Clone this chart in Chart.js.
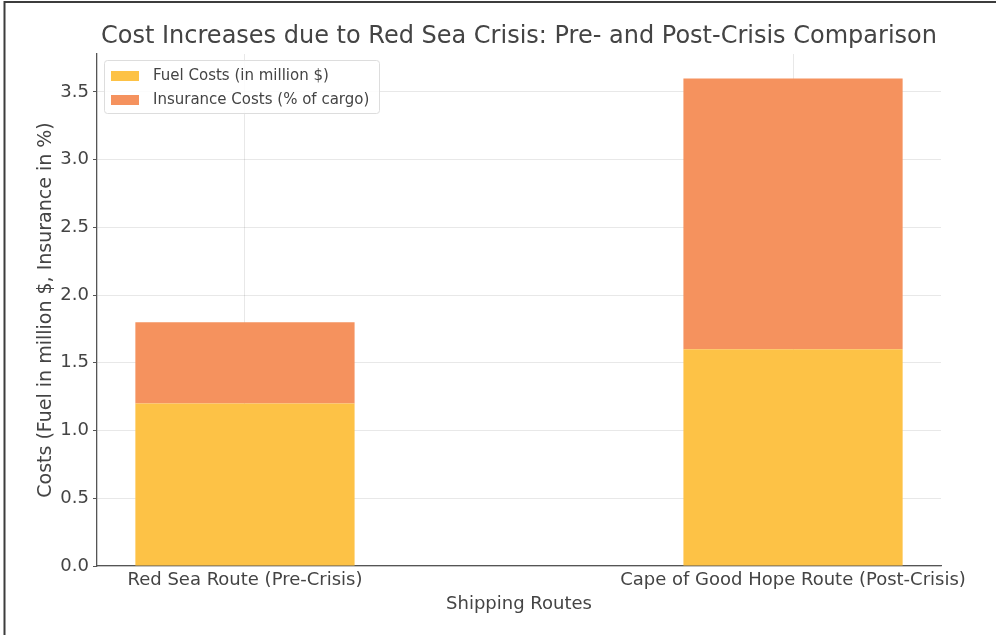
<!DOCTYPE html>
<html>
<head>
<meta charset="utf-8">
<script src="https://cdn.jsdelivr.net/npm/chart.js@4.4.1/dist/chart.umd.min.js"></script>
<style>
  html, body { margin: 0; padding: 0; background: #fff; }
  #wrap { position: absolute; left: 0; top: 0; width: 996px; height: 635px; }
</style>
</head>
<body>
<div id="wrap"><canvas id="c" width="996" height="635"></canvas></div>
<script>
// Shipping routes and their cost components
const routes = ['Red Sea Route (Pre-Crisis)', 'Cape of Good Hope Route (Post-Crisis)'];
const fuelCosts = [1.2, 1.6];        // million $
const insuranceCosts = [0.6, 2.0];   // % of cargo
const yTicks = [0.0, 0.5, 1.0, 1.5, 2.0, 2.5, 3.0, 3.5];
const seriesLabels = ['Fuel Costs (in million $)', 'Insurance Costs (% of cargo)'];
const seriesColors = ['#FDC246', '#F5925E'];
const chartTitle = 'Cost Increases due to Red Sea Crisis: Pre- and Post-Crisis Comparison';

const FONT = "'DejaVu Sans', sans-serif";
const TEXT = '#444444';

const toPoints = arr => arr.map((v, i) => ({ x: i, y: v }));

// Page background and frame lines
const framePlugin = {
  id: 'frame',
  beforeDraw(chart) {
    const ctx = chart.ctx;
    ctx.save();
    ctx.fillStyle = '#ffffff';
    ctx.fillRect(0, 0, chart.width, chart.height);
    ctx.strokeStyle = '#3c3c3c';
    ctx.lineWidth = 2;
    ctx.beginPath();
    ctx.moveTo(4.5, chart.height);
    ctx.lineTo(4.5, 2);
    ctx.lineTo(chart.width, 2);
    ctx.stroke();
    ctx.restore();
  }
};

// Title centred over the plot area
const areaTitle = {
  id: 'areaTitle',
  afterDraw(chart) {
    const ctx = chart.ctx;
    const area = chart.chartArea;
    ctx.save();
    ctx.font = '24px ' + FONT;
    ctx.fillStyle = TEXT;
    ctx.textAlign = 'center';
    ctx.textBaseline = 'middle';
    ctx.fillText(chartTitle, (area.left + area.right) / 2, 37);
    ctx.restore();
  }
};

// Legend drawn inside the plot area, upper left
const innerLegend = {
  id: 'innerLegend',
  afterDraw(chart) {
    const ctx = chart.ctx;
    const area = chart.chartArea;
    const x = area.left + 7, y = area.top + 6, w = 275, h = 53, r = 3;
    ctx.save();
    ctx.fillStyle = 'rgba(255,255,255,0.85)';
    ctx.strokeStyle = '#dddddd';
    ctx.lineWidth = 1;
    ctx.beginPath();
    ctx.roundRect(x + 0.5, y + 0.5, w, h, r);
    ctx.fill();
    ctx.stroke();
    ctx.font = '15px ' + FONT;
    ctx.textBaseline = 'middle';
    ctx.textAlign = 'left';
    chart.data.datasets.forEach((ds, i) => {
      const cy = y + 16 + i * 24;
      ctx.fillStyle = ds.backgroundColor;
      ctx.fillRect(x + 7, cy - 5, 28, 10);
      ctx.fillStyle = TEXT;
      ctx.fillText(ds.label, x + 49, cy);
    });
    ctx.restore();
  }
};

new Chart(document.getElementById('c'), {
  type: 'bar',
  data: {
    datasets: [
      { label: seriesLabels[0], data: toPoints(fuelCosts), backgroundColor: seriesColors[0] },
      { label: seriesLabels[1], data: toPoints(insuranceCosts), backgroundColor: seriesColors[1] }
    ]
  },
  options: {
    responsive: false,
    animation: false,
    devicePixelRatio: 1,
    layout: { padding: { left: 0, right: 55, top: 54, bottom: 0 } },
    datasets: { bar: { barPercentage: 0.4, categoryPercentage: 1.0, borderWidth: 0 } },
    plugins: {
      legend: { display: false },
      tooltip: { enabled: false },
      title: { display: false }
    },
    scales: {
      x: {
        type: 'linear',
        stacked: true,
        offset: false,
        min: -0.27,
        max: 1.27,
        z: 1,
        afterBuildTicks: s => { s.ticks = routes.map((_, i) => ({ value: i })); },
        afterFit: s => { s.height = 69; },
        ticks: {
          color: TEXT,
          font: { family: FONT, size: 18 },
          padding: 4,
          maxRotation: 0,
          autoSkip: false,
          callback: v => routes[v]
        },
        grid: { color: 'rgba(0,0,0,0.09)', drawTicks: false, offset: false },
        border: { display: true, color: '#555555', width: 1.3 },
        title: {
          display: true,
          text: 'Shipping Routes',
          color: TEXT,
          font: { family: FONT, size: 18 },
          padding: { top: 0, bottom: 20 }
        }
      },
      y: {
        stacked: true,
        min: 0,
        max: 3.78,
        z: 1,
        afterBuildTicks: s => { s.ticks = yTicks.map(v => ({ value: v })); },
        afterFit: s => { s.width = 97; },
        ticks: {
          color: TEXT,
          font: { family: FONT, size: 18 },
          padding: 4,
          callback: v => Number(v).toFixed(1)
        },
        grid: { color: 'rgba(0,0,0,0.09)', tickColor: '#555555', tickLength: 4 },
        border: { display: true, color: '#555555', width: 1.3 },
        title: {
          display: true,
          text: 'Costs (Fuel in million $, Insurance in %)',
          color: TEXT,
          font: { family: FONT, size: 19 },
          padding: { top: 35, bottom: 0 }
        }
      }
    }
  },
  plugins: [framePlugin, areaTitle, innerLegend]
});
</script>
</body>
</html>
